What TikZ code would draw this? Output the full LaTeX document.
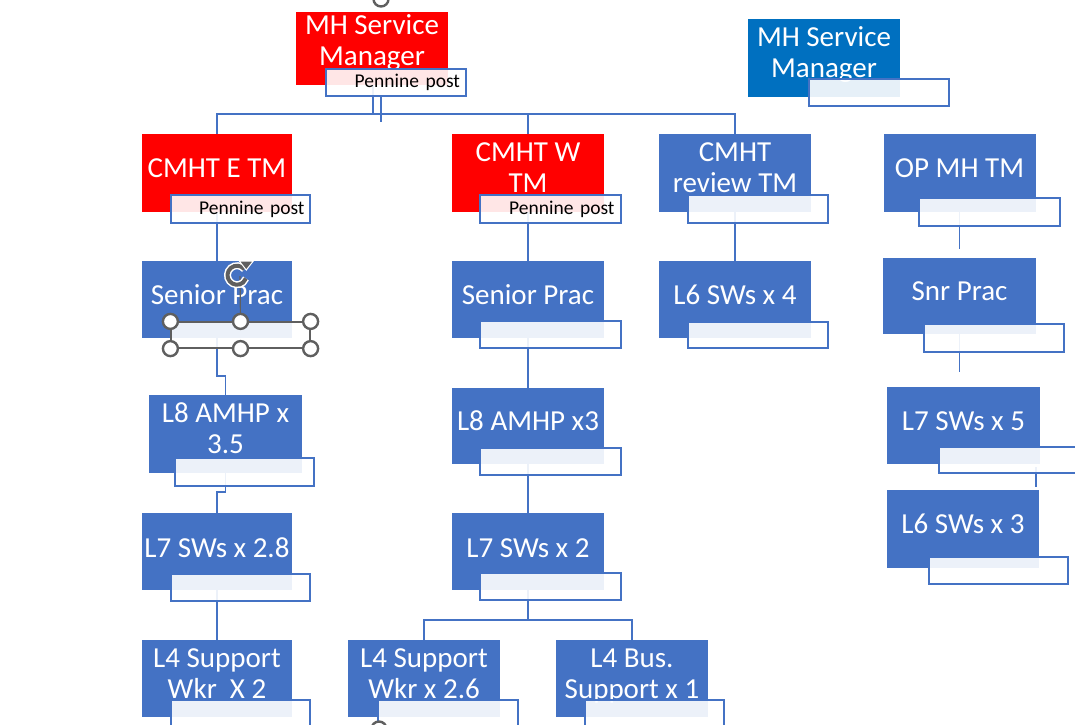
\documentclass[tikz,border=0pt]{standalone}
\usepackage{fontspec}
\setmainfont{Carlito}
\usetikzlibrary{calc,arrows.meta}
\definecolor{ored}{HTML}{FF0000}
\definecolor{oblue}{HTML}{4472C4}
\definecolor{mhblue}{HTML}{0070C0}
\definecolor{lineblue}{HTML}{4472C4}
\definecolor{hgray}{HTML}{5F5F5F}
\newcommand\myst{\rule[-7.25pt]{0pt}{29pt}}
\tikzset{
  obox/.style={rectangle, inner sep=0pt, minimum width=152pt, minimum height=78pt},
  rbox/.style={obox, fill=ored},
  bbox/.style={obox, fill=oblue},
  ttxt/.style={text=white, font=\fontsize{29}{31}\selectfont, align=center, inner sep=0pt},
  lab/.style={rectangle, draw=oblue, line width=1.8pt, fill=white, fill opacity=0.9, text opacity=1, minimum width=140pt, minimum height=27pt, inner sep=0pt},
  ptxt/.style={lab, text width=128pt, align=right, font=\fontsize{19.5}{21}\selectfont, text=black},
  conn/.style={draw=lineblue, line width=1.9pt},
  hdl/.style={circle, draw=hgray, line width=2.4pt, fill=white, minimum size=15pt, inner sep=0pt},
}
\begin{document}
\begin{tikzpicture}[x=1pt,y=-1pt]
\useasboundingbox (0,0) rectangle (1075,724);
\clip (0,0) rectangle (1075,724);

% ---------- main boxes ----------
\node[rbox, minimum height=73pt] (mhR) at (372,48.5) {};
\node[obox, fill=mhblue] (mhB) at (824,58) {};
\node[rbox, minimum width=150pt] (cE) at (217,173) {};
\node[rbox] (cW) at (528,173) {};
\node[bbox] (cR) at (735,173) {};
\node[bbox] (opTM) at (959.5,173) {};
\node[bbox, minimum width=150pt, minimum height=77pt] (spE) at (217,299.5) {};
\node[bbox, minimum height=77pt] (spW) at (528,299.5) {};
\node[bbox, minimum height=77pt] (l6R) at (735,299.5) {};
\node[bbox, minimum width=153pt, minimum height=76pt] (snr) at (959.5,296) {};
\node[bbox, minimum width=153pt] (amhpE) at (225.5,434) {};
\node[bbox, minimum height=76pt] (amhpW) at (528,426) {};
\node[bbox, minimum width=153pt, minimum height=77pt] (l7F) at (963.5,425.5) {};
\node[bbox, minimum width=150pt, minimum height=77pt] (l7E) at (217,551.5) {};
\node[bbox, minimum height=77pt] (l7W) at (528,551.5) {};
\node[bbox] (l6F) at (963,529) {};
\node[bbox, minimum width=150pt, minimum height=77pt] (l4E) at (217,678.5) {};
\node[bbox, minimum height=77pt] (l4a) at (424,678.5) {};
\node[bbox, minimum height=77pt] (l4b) at (632,678.5) {};

% ---------- texts ----------
\node[ttxt] (tmhR) at (372,43) {\myst MH Service\\\myst Manager};
\node[ttxt] (tmhB) at (824,54.5) {\myst MH Service\\\myst Manager};
\node[ttxt] (tcE) at (217,170) {\myst CMHT E TM};
\node[ttxt] (tcW) at (528,169.5) {\myst CMHT W\\\myst TM};
\node[ttxt] (tcR) at (735,169.5) {\myst CMHT\\\myst review TM};
\node[ttxt] (topTM) at (959.5,170) {\myst OP MH TM};
\node[ttxt] (tspE) at (217,297) {\myst Senior Prac};
\node[ttxt] (tspW) at (528,297) {\myst Senior Prac};
\node[ttxt] (tl6R) at (735,297) {\myst L6 SWs x 4};
\node[ttxt] (tsnr) at (959.5,293) {\myst Snr Prac};
\node[ttxt] (tamhpE) at (225.5,430.5) {\myst L8 AMHP x\\\myst 3.5};
\node[ttxt] (tamhpW) at (528,423) {\myst L8 AMHP x3};
\node[ttxt] (tl7F) at (963.5,423) {\myst L7 SWs x 5};
\node[ttxt] (tl7E) at (217,550) {\myst L7 SWs x 2.8};
\node[ttxt] (tl7W) at (528,550) {\myst L7 SWs x 2};
\node[ttxt] (tl6F) at (963,526) {\myst L6 SWs x 3};
\node[ttxt] (tl4E) at (217,675.5) {\myst L4 Support\\\myst Wkr\ \ X 2};
\node[ttxt] (tl4a) at (424,675.5) {\myst L4 Support\\\myst Wkr x 2.6};
\node[ttxt] (tl4b) at (632,675.5) {\myst L4 Bus.\\\myst Support x 1};

% ---------- connectors ----------
\coordinate (hub) at (373,114);
\coordinate (t1) at (381,96);
\coordinate (t2) at (381,122);
\coordinate (bW) at (528,620);
\draw[conn] (mhR.south -| hub) -- (hub);
\draw[conn] (t1) -- (t2);
\draw[conn] (cE.north) |- (hub) -| (cR.north);
\draw[conn] (hub) -| (cW.north);
\draw[conn] (cE.south) -- (spE.north);
\draw[conn] (spE.south) |- ($(amhpE.north)+(0,-19)$) -- (amhpE.north);
\draw[conn] (amhpE.south) |- ($(l7E.north)+(0,-21)$) -- (l7E.north);
\draw[conn] (l7E.south) -- (l4E.north);
\draw[conn] (cW.south) -- (spW.north);
\draw[conn] (spW.south) -- (amhpW.north);
\draw[conn] (amhpW.south) -- (l7W.north);
\draw[conn] (l7W.south) -- (bW);
\draw[conn] (l4a.north) |- (bW) -| (l4b.north);
\draw[conn] (cR.south) -- (l6R.north);
\draw[conn] (opTM.south) -- ($(snr.north)+(0,-9)$);
\draw[conn] (snr.south) -- ($(snr.south)+(0,38)$);
\draw[conn] ($(l7F.south east)+(-4,3)$) -- ($(l6F.north east)+(-3,-3)$);

% ---------- assistant labels ----------
\node[ptxt] (mhRL) at (396,82.5) {Pennine post};
\node[lab] (mhBL) at (879,92.5) {};
\node[ptxt, minimum width=139pt, minimum height=28pt] (cEL) at (240.5,209) {Pennine post};
\node[ptxt, minimum width=141pt, minimum height=28pt] (cWL) at (550.5,209) {Pennine post};
\node[lab, minimum height=28pt] (cRL) at (758,209) {};
\node[lab, minimum width=141pt, minimum height=28pt] (opL) at (989.5,212) {};
\node[lab, minimum width=139pt, minimum height=26pt, draw=hgray, line width=1.2pt] (spEL) at (240.5,335) {};
\node[lab, minimum width=141pt] (spWL) at (550.5,334.5) {};
\node[lab, minimum height=26pt] (l6RL) at (758,335) {};
\node[lab, minimum height=28pt] (snrL) at (994,338) {};
\node[lab, minimum width=139pt, minimum height=28pt] (amhpEL) at (244.5,472) {};
\node[lab, minimum width=141pt] (amhpWL) at (550.5,461.5) {};
\node[lab, minimum width=139pt, minimum height=26pt] (l7FL) at (1008.5,460) {};
\node[lab, minimum width=139pt] (l7EL) at (240.5,587.5) {};
\node[lab, minimum width=141pt] (l7WL) at (550.5,586.5) {};
\node[lab, minimum width=139pt] (l6FL) at (998.5,570.5) {};
\node[lab, minimum width=139pt] (l4EL) at (240.5,713.5) {};
\node[lab] (l4aL) at (448,713.5) {};
\node[lab, minimum width=139pt] (l4bL) at (654.5,713.5) {};

% ---------- selection handles ----------
\coordinate (rot) at (237,263);
\draw[hgray, line width=1.2pt] (spEL.north) -- (240,276);
\node[hdl] (h1) at (spEL.north west) {};
\node[hdl] (h2) at (spEL.north) {};
\node[hdl] (h3) at (spEL.north east) {};
\node[hdl] (h4) at (spEL.south west) {};
\node[hdl] (h5) at (spEL.south) {};
\node[hdl] (h6) at (spEL.south east) {};
\draw[white, line width=7pt] ($(rot)+(40:9.5)$) arc[start angle=40, end angle=340, radius=9.5pt];
\draw[hgray, line width=4pt] ($(rot)+(40:9.5)$) arc[start angle=40, end angle=340, radius=9.5pt];
\fill[hgray, draw=white, line width=1pt] ($(rot)+(348:9.5)+(-7,0)$) -- ($(rot)+(348:9.5)+(7,0)$) -- ($(rot)+(348:9.5)+(0,9)$) -- cycle;
\node[hdl] (h7) at (381,-1) {};
\node[hdl] (h8) at (379,729) {};
\end{tikzpicture}
\end{document}
